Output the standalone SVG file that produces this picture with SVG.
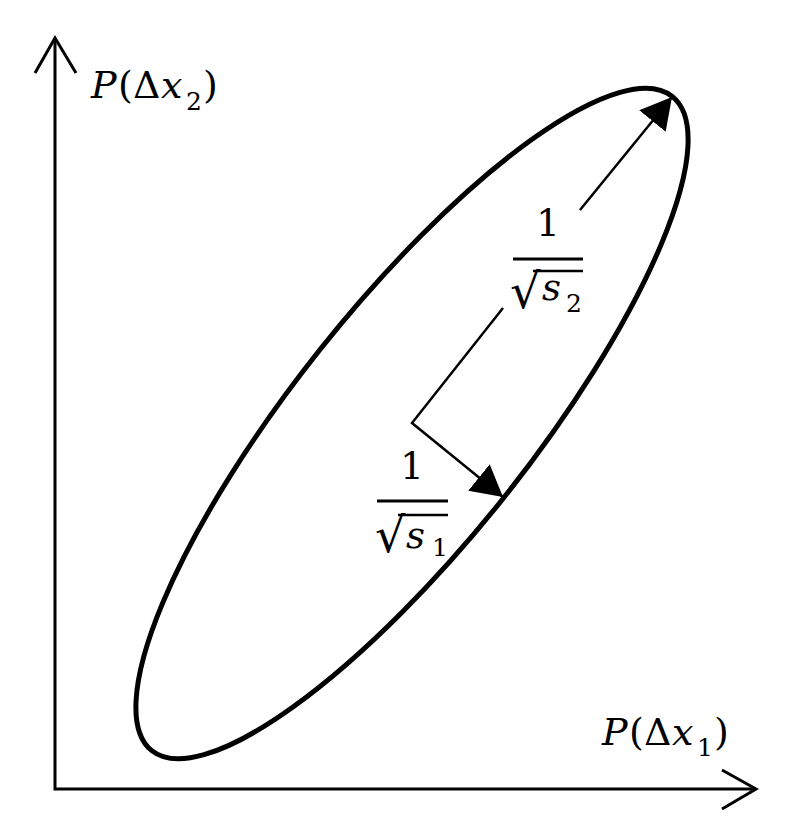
<svg xmlns="http://www.w3.org/2000/svg" width="785" height="827" viewBox="0 0 785 827">
  <style>
    .axis { fill: none; stroke: #000; stroke-width: 3; stroke-linejoin: miter; }
    .arr { fill: none; stroke: #000; stroke-width: 2.5; stroke-linejoin: miter; }
    .bar { stroke: #000; stroke-width: 3; }
    .vin { stroke: #000; stroke-width: 2.5; }
    text { font-family: "DejaVu Serif", "Liberation Serif", serif; fill: #000; }
    .lab { font-size: 38px; }
    .fr { font-size: 37px; }
    .rad { font-size: 48px; }
    .it { font-style: italic; }
    .sub { font-size: 25px; }
  </style>
  <defs>
    <marker id="head" markerUnits="userSpaceOnUse" markerWidth="32" markerHeight="34" refX="31" refY="17" orient="auto">
      <path d="M0,0 L31,17 L0,34 z" fill="#000"/>
    </marker>
  </defs>
  <rect width="785" height="827" fill="#fff"/>

  <g id="axes">
    <path class="axis" d="M55,38 L55,789 L756,789"/>
    <path class="axis" d="M35,73 L55,38 L76,73"/>
    <path class="axis" d="M722,770 L756,789 L722,809"/>
  </g>

  <g id="ellipse">
    <ellipse cx="412" cy="423.5" rx="418" ry="118" transform="rotate(-51.5 412 423.5)" fill="none" stroke="#000" stroke-width="5"/>
  </g>

  <g id="connectors">
    <path class="arr" d="M503,308 L412,423 L503,497" marker-end="url(#head)"/>
    <path class="arr" d="M580,210 L672,97" marker-end="url(#head)"/>
  </g>

  <g id="label-y">
    <text class="lab" y="98"><tspan class="it" x="91">P</tspan><tspan x="118">(</tspan><tspan x="133">Δ</tspan><tspan class="it" x="161">x</tspan><tspan class="sub" x="186" y="110">2</tspan><tspan x="203" y="98">)</tspan></text>
  </g>

  <g id="label-x">
    <text class="lab" y="745"><tspan class="it" x="602">P</tspan><tspan x="629">(</tspan><tspan x="644">Δ</tspan><tspan class="it" x="672">x</tspan><tspan class="sub" x="697" y="756">1</tspan><tspan x="714" y="745">)</tspan></text>
  </g>

  <g id="label-s2">
    <text class="fr" x="548" y="236" text-anchor="middle">1</text>
    <line class="bar" x1="513" y1="259" x2="583" y2="259"/>
    <text class="rad" x="510" y="308">√</text>
    <line class="vin" x1="533" y1="271" x2="583" y2="271"/>
    <text class="fr it" x="542" y="300">s</text>
    <text class="sub" x="566" y="312">2</text>
  </g>

  <g id="label-s1">
    <text class="fr" x="412" y="479" text-anchor="middle">1</text>
    <line class="bar" x1="377" y1="501" x2="448" y2="501"/>
    <text class="rad" x="375" y="552">√</text>
    <line class="vin" x1="398" y1="515" x2="448" y2="515"/>
    <text class="fr it" x="406" y="548">s</text>
    <text class="sub" x="432" y="556">1</text>
  </g>
</svg>
